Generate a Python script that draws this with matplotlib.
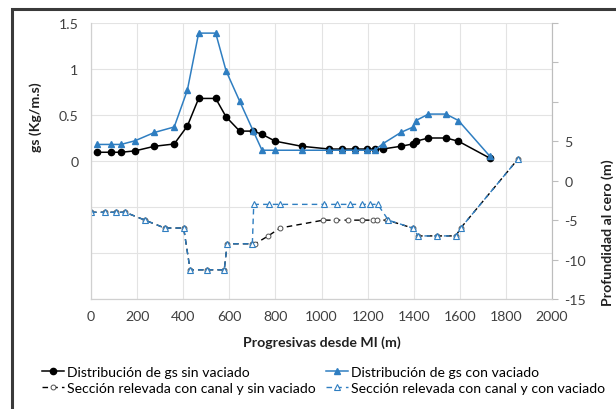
import numpy as np
import matplotlib.pyplot as plt
from matplotlib.patches import Rectangle

# gs distribution (left axis)
x_gs = [27, 87, 130, 191, 275, 361, 418, 467, 541, 586, 645, 704, 742, 800,
        914, 1034, 1090, 1145, 1196, 1232, 1265, 1344, 1398, 1410, 1464, 1540,
        1594, 1731]
gs_sin = [0.095, 0.095, 0.095, 0.11, 0.16, 0.185, 0.38, 0.68, 0.68, 0.48, 0.325,
          0.325, 0.29, 0.215, 0.16, 0.13, 0.13, 0.13, 0.13, 0.13, 0.13, 0.16,
          0.186, 0.215, 0.25, 0.25, 0.215, 0.03]
gs_con = [0.18, 0.18, 0.18, 0.22, 0.31, 0.37, 0.77, 1.39, 1.39, 0.98, 0.65,
          0.325, 0.117, 0.117, 0.117, 0.117, 0.117, 0.117, 0.117, 0.117, 0.186,
          0.31, 0.37, 0.44, 0.51, 0.51, 0.44, 0.05]

# surveyed sections (right axis)
x_sec_sin = [0, 61, 107, 148, 234, 320, 402, 430, 504, 578, 591, 700, 712, 769,
             820, 1008, 1063, 1116, 1177, 1222, 1239, 1285, 1395, 1420, 1503,
             1583, 1604, 1851]
z_sec_sin = [-4, -4, -4, -4, -5, -6, -6, -11.3, -11.3, -11.3, -8, -8, -8, -7,
             -6, -5, -5, -5, -5, -5, -5, -5, -6, -7, -7, -7, -6, 2.7]
x_sec_con = [0, 61, 107, 148, 234, 320, 402, 430, 504, 578, 591, 700, 706, 773,
             820, 1012, 1066, 1124, 1174, 1210, 1244, 1290, 1395, 1420, 1503,
             1583, 1604, 1851]
z_sec_con = [-4, -4, -4, -4, -5, -6, -6, -11.3, -11.3, -11.3, -8, -8, -3, -3,
             -3, -3, -3, -3, -3, -3, -3, -5, -6, -7, -7, -7, -6, 2.7]

blue = '#2F7EC1'
txt = '#404040'
fs = 10.2
plt.rcParams['font.family'] = ['Lato', 'DejaVu Sans']
plt.rcParams['font.size'] = fs

fig = plt.figure(figsize=(6.16, 4.10), dpi=100)
fig.patches.append(Rectangle((12 / 616, -0.05), 1.1, 1 - 10 / 410 + 0.05,
                             transform=fig.transFigure, fill=False,
                             edgecolor='#3a3a3a', lw=2.2))
ax = fig.add_axes([91 / 616, 1 - 300 / 410, (552 - 91) / 616, (300 - 24) / 410])
ax2 = ax.twinx()

l1, = ax.plot(x_gs, gs_sin, color='black', lw=1.1, marker='o', ms=4.5,
              label='Distribución de gs sin vaciado')
l2, = ax.plot(x_gs, gs_con, color=blue, lw=1.1, marker='^', ms=4.8,
              label='Distribución de gs con vaciado')
l3, = ax2.plot(x_sec_sin, z_sec_sin, color='black', lw=1.0, ls=(0, (4, 3)),
               marker='o', ms=3.5, mfc='white', mec='#505050', mew=0.7,
               label='Sección relevada con canal y sin vaciado')
l4, = ax2.plot(x_sec_con, z_sec_con, color=blue, lw=1.0, ls=(0, (4, 3)),
               marker='^', ms=3.8, mfc='white', mec=blue, mew=0.8,
               label='Sección relevada con canal y con vaciado')

ax.set_xlim(0, 2000)
ax.set_ylim(-1.5, 1.5)
ax2.set_ylim(-15, 20)
ax.set_xticks(np.arange(0, 2001, 200))
ax.set_yticks(np.arange(-1.5, 1.51, 0.5))
ax.set_yticklabels(['', '', '', '0', '0.5', '1', '1.5'])
ax2.set_yticks(np.arange(-15, 21, 5))
ax2.set_yticklabels(['-15', '-10', '-5', '0', '5', '', '', ''])

ax.grid(True, color='#E3E3E3', lw=0.8)
ax.set_axisbelow(True)
for a in (ax, ax2):
    for s in a.spines.values():
        s.set_color('#D0D0D0')
    a.spines['top'].set_visible(False)
ax2.spines['right'].set_color('#BDBDBD')
ax.tick_params(axis='both', length=0, colors=txt, labelsize=fs)
ax.tick_params(axis='x', pad=8)
ax.tick_params(axis='y', pad=9)
ax2.tick_params(axis='y', length=4, color='#BDBDBD', colors=txt, labelsize=fs,
                pad=5)

lab = dict(fontweight='bold', fontsize=fs, color='#202020')
ax.set_xlabel('Progresivas desde MI (m)', **lab)
ax.xaxis.set_label_coords(0.5, -0.13)
ax.set_ylabel('gs (Kg/m.s)', **lab)
ax.yaxis.set_label_coords(-0.106, 0.663)
ax2.set_ylabel('Profundidad al cero (m)', **lab)
ax2.yaxis.set_label_coords(1.108, 0.245)

leg_kw = dict(loc='upper left', frameon=False, fontsize=10.1,
              handlelength=1.55, handletextpad=0.2, labelspacing=0.25,
              borderaxespad=0, borderpad=0)
fig.legend(handles=[l1, l3], bbox_to_anchor=(42 / 616, 1 - 367 / 410),
           **leg_kw)
fig.legend(handles=[l2, l4], bbox_to_anchor=(326 / 616, 1 - 367 / 410),
           **leg_kw)

fig.savefig('out.png', dpi=100)
